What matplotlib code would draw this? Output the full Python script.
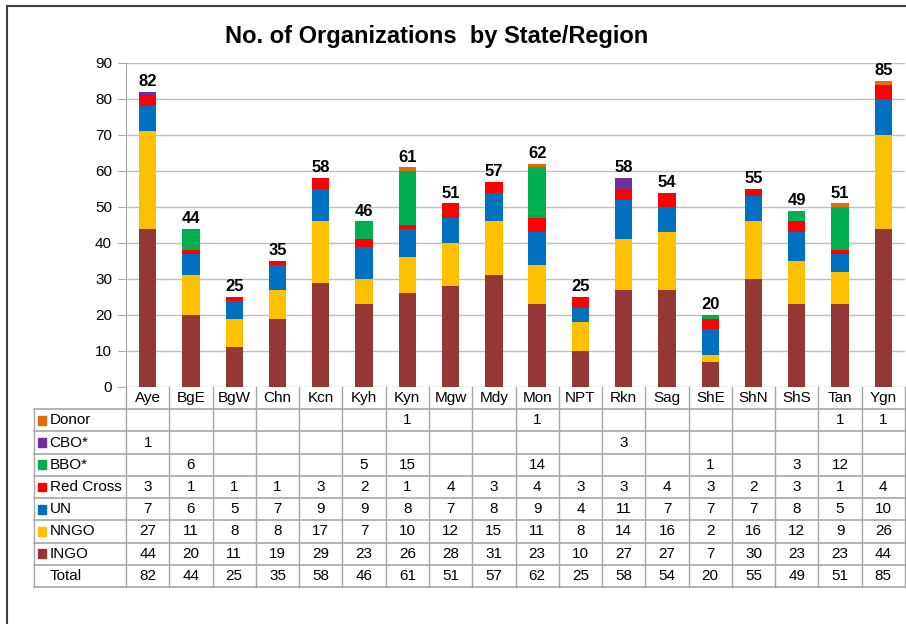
import matplotlib.pyplot as plt
from matplotlib.lines import Line2D
from matplotlib.patches import Rectangle

plt.rcParams['font.family'] = ['Liberation Sans', 'DejaVu Sans']

regions = ['Aye', 'BgE', 'BgW', 'Chn', 'Kcn', 'Kyh', 'Kyn', 'Mgw', 'Mdy',
           'Mon', 'NPT', 'Rkn', 'Sag', 'ShE', 'ShN', 'ShS', 'Tan', 'Ygn']

ingo = [44, 20, 11, 19, 29, 23, 26, 28, 31, 23, 10, 27, 27, 7, 30, 23, 23, 44]
nngo = [27, 11, 8, 8, 17, 7, 10, 12, 15, 11, 8, 14, 16, 2, 16, 12, 9, 26]
un = [7, 6, 5, 7, 9, 9, 8, 7, 8, 9, 4, 11, 7, 7, 7, 8, 5, 10]
red_cross = [3, 1, 1, 1, 3, 2, 1, 4, 3, 4, 3, 3, 4, 3, 2, 3, 1, 4]
bbo = [0, 6, 0, 0, 0, 5, 15, 0, 0, 14, 0, 0, 0, 1, 0, 3, 12, 0]
cbo = [1, 0, 0, 0, 0, 0, 0, 0, 0, 0, 0, 3, 0, 0, 0, 0, 0, 0]
donor = [0, 0, 0, 0, 0, 0, 1, 0, 0, 1, 0, 0, 0, 0, 0, 0, 1, 1]

series = [('INGO', ingo, '#953735'),
          ('NNGO', nngo, '#FFC000'),
          ('UN', un, '#0070C0'),
          ('Red Cross', red_cross, '#FF0000'),
          ('BBO*', bbo, '#00B050'),
          ('CBO*', cbo, '#7030A0'),
          ('Donor', donor, '#E46C0A')]

W, H = 906, 624
fig = plt.figure(figsize=(W / 100, H / 100), dpi=100)

# outer frame (left and top edge)
fig.add_artist(Line2D([7 / W, 7 / W], [0, 1 - 6 / H], color='#404040', lw=1.5))
fig.add_artist(Line2D([7 / W, 1], [1 - 6 / H, 1 - 6 / H], color='#404040', lw=1.5))

fig.text(437 / W, 1 - 36 / H, 'No. of Organizations  by State/Region',
         ha='center', va='center', fontsize=17, fontweight='bold')

ax = fig.add_axes([126 / W, 1 - 387 / H, (905 - 126) / W, (387 - 63) / H])
x = list(range(len(regions)))
bottom = [0] * len(regions)
for name, vals, color in series:
    ax.bar(x, vals, 0.4, bottom=bottom, color=color, zorder=3)
    bottom = [b + v for b, v in zip(bottom, vals)]

totals = bottom
for i, t in enumerate(totals):
    ax.text(i, t + 0.8, str(t), ha='center', va='bottom',
            fontsize=12, fontweight='bold', zorder=4)

ax.set_xlim(-0.5, len(regions) - 0.5)
ax.set_ylim(0, 90)
ax.set_yticks(range(0, 91, 10))
ax.set_xticks([])
ax.yaxis.grid(True, color='#BFBFBF', lw=1)
ax.set_axisbelow(True)
for s in ['top', 'right', 'bottom']:
    ax.spines[s].set_visible(False)
ax.spines['left'].set_color('#A6A6A6')
ax.tick_params(axis='y', length=6, color='#A6A6A6', labelsize=11, pad=4)

# data table under the chart
tab = fig.add_axes([126 / W, 1 - 587 / H, (905 - 126) / W, (587 - 387) / H],
                   sharex=ax)
tab.set_ylim(9, 0)
tab.axis('off')
label_left = -0.5 - (126 - 34) / ((905 - 126) / len(regions))
gc = '#A6A6A6'

rows = [('Donor', donor, '#E46C0A'), ('CBO*', cbo, '#7030A0'),
        ('BBO*', bbo, '#00B050'), ('Red Cross', red_cross, '#FF0000'),
        ('UN', un, '#0070C0'), ('NNGO', nngo, '#FFC000'),
        ('INGO', ingo, '#953735'), ('Total', totals, None)]

for k in range(len(regions) + 1):
    tab.plot([k - 0.5, k - 0.5], [0, 9], color=gc, lw=1, clip_on=False)
tab.plot([label_left, label_left], [1, 9], color=gc, lw=1, clip_on=False)
for r in range(1, 10):
    tab.plot([label_left, len(regions) - 0.5], [r, r], color=gc, lw=1.2,
             clip_on=False)

for i, reg in enumerate(regions):
    tab.text(i, 0.5, reg, ha='center', va='center', fontsize=11)

sq = 0.18
for r, (name, vals, color) in enumerate(rows, start=1):
    if color is not None:
        tab.add_patch(Rectangle((label_left + 0.1, r + 0.5 - 0.2), sq, 0.4,
                                color=color, clip_on=False))
    tab.text(label_left + 0.36, r + 0.5, name, ha='left', va='center',
             fontsize=11)
    for i, v in enumerate(vals):
        if v:
            tab.text(i, r + 0.5, str(v), ha='center', va='center',
                     fontsize=11)

fig.savefig('out.png', dpi=100)
